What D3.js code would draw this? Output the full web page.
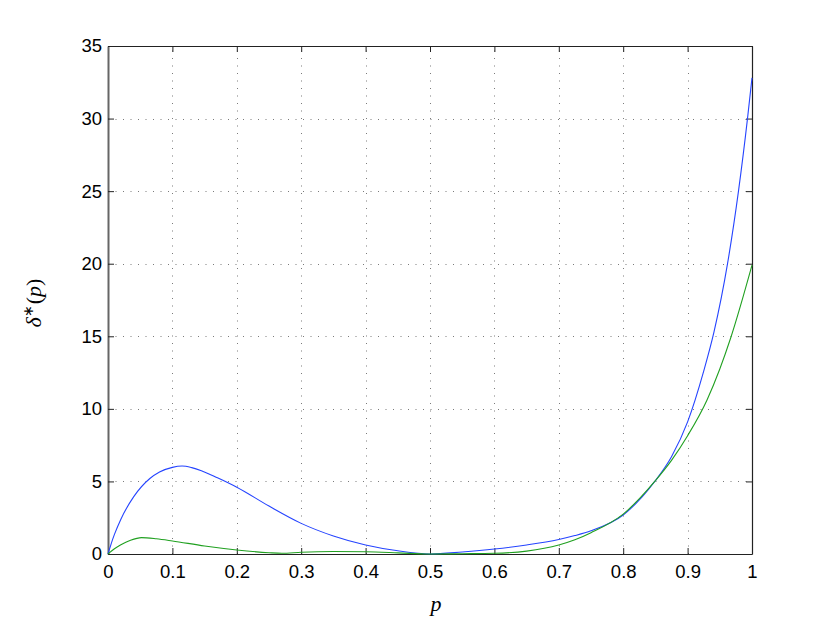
<!DOCTYPE html>
<html>
<head>
<meta charset="utf-8">
<script src="https://cdn.jsdelivr.net/npm/d3@7"></script>
<style>
  body { margin: 0; background: #fff; }
  text { font-family: "Liberation Sans", Arial, sans-serif; }
</style>
</head>
<body>
<div id="chart"></div>
<script>
// tick values
var xTicks = [0, 0.1, 0.2, 0.3, 0.4, 0.5, 0.6, 0.7, 0.8, 0.9, 1];
var yTicks = [0, 5, 10, 15, 20, 25, 30, 35];

// curves: p and delta*(p)
var pBlue = [0, 0.005, 0.01, 0.02, 0.04, 0.065, 0.08, 0.1, 0.115, 0.13, 0.145, 0.17, 0.2, 0.25, 0.3, 0.35, 0.4, 0.45, 0.5,
             0.55, 0.6, 0.65, 0.7, 0.725, 0.75, 0.8, 0.849, 0.875, 0.9, 0.925, 0.941, 0.962, 0.979, 0.993, 1];
var dBlue = [0, 0.72, 1.35, 2.4, 3.95, 5.2, 5.65, 5.97, 6.06, 5.95, 5.74, 5.25, 4.6, 3.3, 2.11, 1.24, 0.62, 0.22, 0,
             0.14, 0.34, 0.62, 1.0, 1.27, 1.6, 2.69, 5.0, 6.7, 9.1, 12.6, 15.3, 20, 25, 30, 32.8];

var pGreen = [0, 0.005, 0.01, 0.02, 0.035, 0.052, 0.075, 0.1, 0.15, 0.2, 0.25, 0.27, 0.3, 0.35, 0.4, 0.45, 0.5,
              0.55, 0.6, 0.65, 0.7, 0.725, 0.75, 0.8, 0.849, 0.875, 0.9, 0.93, 0.95, 0.967, 1];
var dGreen = [0, 0.19, 0.36, 0.64, 0.95, 1.13, 1.05, 0.9, 0.55, 0.28, 0.09, 0.05, 0.12, 0.17, 0.15, 0.08, 0,
              0.02, 0.05, 0.2, 0.62, 0.98, 1.47, 2.75, 5.0, 6.45, 8.15, 10.6, 12.75, 14.9, 19.9];

var W = 830, H = 624;
var m = {left: 108, right: 752, top: 46, bottom: 554};

var svg = d3.select("#chart").append("svg")
    .attr("width", W).attr("height", H);

var x = d3.scaleLinear().domain([0, 1]).range([m.left, m.right]);
var y = d3.scaleLinear().domain([0, 35]).range([m.bottom, m.top]);

// dotted grid
var grid = svg.append("g").attr("stroke", "#444").attr("stroke-width", 1)
    .attr("stroke-dasharray", "1,6.5").attr("opacity", 0.7);
grid.selectAll("line.gx").data(xTicks.slice(1, -1)).enter().append("line")
    .attr("x1", function(d){ return Math.round(x(d)) + 0.5; })
    .attr("x2", function(d){ return Math.round(x(d)) + 0.5; })
    .attr("y1", m.bottom).attr("y2", m.top);
grid.selectAll("line.gy").data(yTicks.slice(1, -1)).enter().append("line")
    .attr("y1", function(d){ return Math.round(y(d)) + 0.5; })
    .attr("y2", function(d){ return Math.round(y(d)) + 0.5; })
    .attr("x1", m.left).attr("x2", m.right);

// axes, ticks inward on all four sides
var tick = 6;
var xb = svg.append("g").attr("transform", "translate(0," + m.bottom + ")")
    .call(d3.axisBottom(x).tickValues(xTicks).tickSizeInner(-tick).tickSizeOuter(0).tickPadding(11)
        .tickFormat(d3.format("")));
var xt = svg.append("g").attr("transform", "translate(0," + m.top + ")")
    .call(d3.axisTop(x).tickValues(xTicks).tickSizeInner(-tick).tickSizeOuter(0).tickFormat(""));
var yl = svg.append("g").attr("transform", "translate(" + m.left + ",0)")
    .call(d3.axisLeft(y).tickValues(yTicks).tickSizeInner(-tick).tickSizeOuter(0).tickPadding(6));
var yr = svg.append("g").attr("transform", "translate(" + m.right + ",0)")
    .call(d3.axisRight(y).tickValues(yTicks).tickSizeInner(-tick).tickSizeOuter(0).tickFormat(""));

[xb, xt, yl, yr].forEach(function(a){
    a.attr("font-size", null).attr("font-family", null);
    a.select(".domain").attr("stroke", "#222").attr("stroke-width", 1.2);
    a.selectAll(".tick line").attr("stroke", "#222");
    a.selectAll("text").attr("fill", "#000")
        .style("font-size", "18.5px")
        .style("font-family", "'Liberation Sans', Arial, sans-serif");
});
yl.select(".domain").attr("stroke", "#666").attr("stroke-width", 2);

// curves
var line = d3.line().curve(d3.curveMonotoneX)
    .x(function(d){ return x(d[0]); }).y(function(d){ return y(d[1]); });

svg.append("path").datum(d3.zip(pBlue, dBlue))
    .attr("d", line).attr("fill", "none").attr("stroke", "#2544ff").attr("stroke-width", 1.1);
svg.append("path").datum(d3.zip(pGreen, dGreen))
    .attr("d", line).attr("fill", "none").attr("stroke", "#20a020").attr("stroke-width", 1.1);

// axis labels
svg.append("text").attr("x", 436).attr("y", 611).attr("text-anchor", "middle")
    .style("font-family", "'Liberation Serif', 'Times New Roman', serif")
    .attr("font-style", "italic").style("font-size", "22px").text("p");

var ylab = svg.append("text").attr("transform", "translate(41,303) rotate(-90)")
    .attr("text-anchor", "middle")
    .style("font-family", "'Liberation Serif', 'Times New Roman', serif")
    .style("font-size", "22px");
ylab.append("tspan").attr("font-style", "italic").text("δ");
ylab.append("tspan").style("font-size", "14px").attr("dy", -8).text("∗");
ylab.append("tspan").attr("dy", 8).attr("dx", 1).text("(");
ylab.append("tspan").attr("font-style", "italic").text("p");
ylab.append("tspan").text(")");
</script>
</body>
</html>
